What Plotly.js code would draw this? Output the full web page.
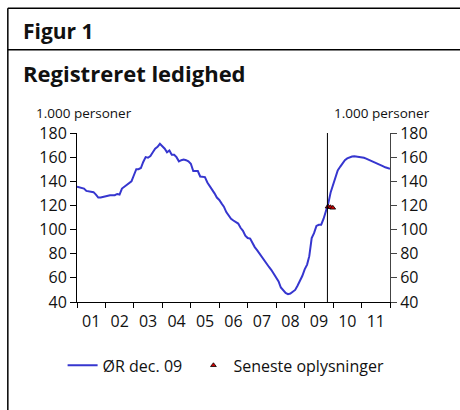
<!DOCTYPE html>
<html>
<head>
<meta charset="utf-8">
<script src="https://cdn.plot.ly/plotly-3.0.1.min.js"></script>
<style>
html,body{margin:0;padding:0;background:#fff;}
#chart{width:460px;height:410px;}
</style>
</head>
<body>
<div id="chart"></div>
<script>
// Monthly registered unemployment (1.000 persons), Jan 2001 .. Jan 2012
var startYear = 2001;
var orValues = [
  135.5,135,134.5,134,132,131.5,131,131,129,126.5,126.5,127,
  128,128,128.5,128.5,128.5,129.5,129,134,135.5,137,138,140,
  145,150,150,151,156,160,159.5,161,164,167,168.5,171,
  169,167,164,165.5,162,162,160,156.5,157.5,158,157.5,156.5,
  154.5,148.5,148.5,148.5,144,144,143.5,139,136,134,130,126.5,
  124.5,121.5,119,114.5,111.5,109,107.5,106.5,105,101.5,99,95,
  93,92.5,89,85.5,83,80,77.5,75,72,69,66.5,63,
  60.5,57,52,49.5,47.5,46.5,47,48.5,50,53.5,57,61.5,
  67,71,78,93,97,103,104,104,109,115,122,131,
  137,142.5,149,152,155,157.5,159,160,160.5,160.8,160.6,160.2,
  159.8,159.5,158.8,158,156.8,155.8,155,154.2,153.4,152.6,151.6,150.7,
  150.3
];
// Latest observations
var latestDates = ["2009-10-28","2009-11-28","2009-12-28"];
var latestValues = [119, 118.5, 118];
var forecastStart = "2009-10-20";
var seriesNames = ["ØR dec. 09", "Seneste oplysninger"];

var months = [];
for (var i = 0; i < orValues.length; i++) {
  var y = startYear + Math.floor(i / 12);
  var m = (i % 12) + 1;
  months.push(y + "-" + (m < 10 ? "0" + m : m) + "-01");
}

var FONT = "Open Sans, sans-serif";

var traces = [
  {
    x: months, y: orValues, type: "scatter", mode: "lines",
    name: seriesNames[0], legend: "legend",
    line: {color: "#3636cf", width: 2},
    hoverinfo: "skip"
  },
  {
    x: latestDates, y: latestValues, type: "scatter", mode: "markers",
    name: seriesNames[1], legend: "legend2",
    marker: {symbol: "triangle-up", size: 5, color: "#d00000", line: {color: "#000", width: 0.8}},
    hoverinfo: "skip"
  },
  {
    x: [], y: [], yaxis: "y2", type: "scatter", mode: "lines",
    showlegend: false, hoverinfo: "skip"
  }
];

var legendCommon = {
  orientation: "h", xanchor: "left", y: -0.375, yanchor: "middle",
  font: {family: FONT, size: 16, color: "#111"},
  itemwidth: 30, bgcolor: "rgba(0,0,0,0)"
};

var layout = {
  width: 460, height: 410,
  margin: {l: 77, r: 70, t: 133, b: 108, pad: 0},
  paper_bgcolor: "#fff", plot_bgcolor: "#fff",
  font: {family: FONT, size: 16, color: "#111"},
  showlegend: true,
  legend: Object.assign({}, legendCommon, {x: -0.046}),
  legend2: Object.assign({}, legendCommon, {x: 0.372}),
  xaxis: {
    type: "date",
    range: ["2001-01-01", "2012-01-01"],
    tick0: "2001-01-01", dtick: "M12",
    tickformat: "%y", ticklabelmode: "period",
    ticks: "outside", ticklen: 5, tickcolor: "#000",
    showline: true, linecolor: "#000", linewidth: 1,
    showgrid: false, zeroline: false,
    tickfont: {family: FONT, size: 16, color: "#111"}
  },
  yaxis: {
    range: [40, 180], dtick: 20, tick0: 40,
    ticks: "outside", ticklen: 6, tickcolor: "#000",
    showline: true, linecolor: "#000", linewidth: 1,
    showgrid: false, zeroline: false,
    tickfont: {family: FONT, size: 16, color: "#111"}
  },
  yaxis2: {
    range: [40, 180], dtick: 20, tick0: 40,
    overlaying: "y", side: "right",
    ticks: "outside", ticklen: 6, tickcolor: "#444",
    showline: true, linecolor: "#444", linewidth: 1,
    showgrid: false, zeroline: false,
    tickfont: {family: FONT, size: 16, color: "#111"}
  },
  shapes: [
    {type: "line", xref: "x", yref: "paper", x0: forecastStart, x1: forecastStart, y0: 0, y1: 1,
     line: {color: "#000", width: 1}},
    // frame
    {type: "line", xref: "paper", yref: "paper", x0: -0.221, x1: 1.23, y0: 1.7375, y1: 1.7375,
     line: {color: "#000", width: 1.5}},
    {type: "line", xref: "paper", yref: "paper", x0: -0.221, x1: 1.23, y0: 1.4926, y1: 1.4926,
     line: {color: "#000", width: 1.5}},
    {type: "line", xref: "paper", yref: "paper", x0: -0.221, x1: -0.221, y0: 1.7375, y1: -0.65,
     line: {color: "#000", width: 1.5}}
  ],
  annotations: [
    {text: "<b>Figur 1</b>", xref: "paper", yref: "paper", x: -0.178, y: 1.605,
     xanchor: "left", yanchor: "middle", showarrow: false,
     font: {family: FONT, size: 21, color: "#111"}},
    {text: "<b>Registreret ledighed</b>", xref: "paper", yref: "paper", x: -0.178, y: 1.355,
     xanchor: "left", yanchor: "middle", showarrow: false,
     font: {family: FONT, size: 22, color: "#111"}},
    {text: "1.000 personer", xref: "paper", yref: "paper", x: -0.136, y: 1.118,
     xanchor: "left", yanchor: "middle", showarrow: false,
     font: {family: FONT, size: 13.5, color: "#111"}},
    {text: "1.000 personer", xref: "paper", yref: "paper", x: 1.135, y: 1.118,
     xanchor: "right", yanchor: "middle", showarrow: false,
     font: {family: FONT, size: 13.5, color: "#111"}}
  ]
};

Plotly.newPlot("chart", traces, layout, {staticPlot: true, displayModeBar: false});
</script>
</body>
</html>
